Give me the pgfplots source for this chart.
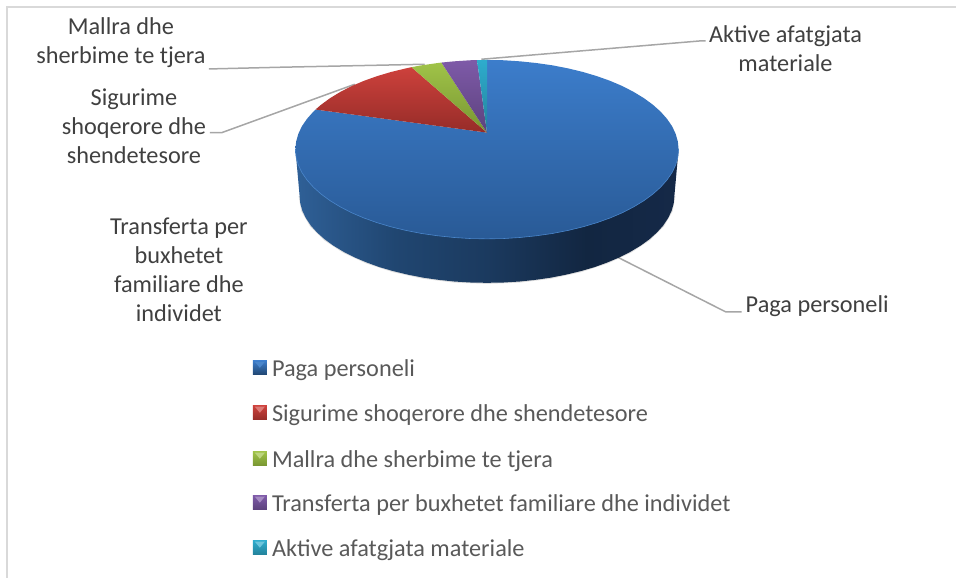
\documentclass[border=0pt]{standalone}
\usepackage{fontspec}
\setmainfont{Carlito}
\usepackage{pgfplots}
\pgfplotsset{compat=1.18}
\definecolor{txtA}{HTML}{404040}
\definecolor{txtB}{HTML}{595959}
\definecolor{leader}{HTML}{A6A6A6}
\definecolor{frameC}{HTML}{D9D9D9}
\definecolor{sA}{RGB}{47,96,151}
\definecolor{sB}{RGB}{32,70,113}
\definecolor{sC}{RGB}{27,58,95}
\definecolor{sD}{RGB}{18,38,65}
\definecolor{sE}{RGB}{21,41,72}
\definecolor{bT}{RGB}{60,125,203}
\definecolor{bB}{RGB}{41,90,150}
\definecolor{bR}{RGB}{74,134,203}
\definecolor{rT}{RGB}{205,65,60}
\definecolor{rB}{RGB}{150,44,40}
\definecolor{gT}{RGB}{160,195,72}
\definecolor{gB}{RGB}{120,150,50}
\definecolor{pT}{RGB}{126,90,168}
\definecolor{pB}{RGB}{92,66,125}
\definecolor{cT}{RGB}{46,172,205}
\definecolor{cB}{RGB}{35,130,155}
\pgfdeclarehorizontalshading{sideblue}{100bp}{
color(0bp)=(sA);
color(25bp)=(sA);
color(38bp)=(sB);
color(50bp)=(sC);
color(63bp)=(sD);
color(75bp)=(sE);
color(100bp)=(sE)}
\newcommand{\lab}[3]{\node[align=center,text=txtA,font=\fontsize{24.3}{29}\selectfont,inner sep=0pt] at (axis cs:#1,#2) {#3};}
\newcommand{\leg}[2]{\node[anchor=west,text=txtB,font=\fontsize{24.3}{29}\selectfont,inner sep=0pt] at (axis cs:272,#1) {#2};}
\begin{document}
\begin{tikzpicture}
\begin{axis}[hide axis,scale only axis,width=957pt,height=578pt,xmin=0,xmax=957,ymin=0,ymax=578,clip=false,no markers]
\path (axis cs:0,0) rectangle (axis cs:957,578);
% frame
\addplot[draw=frameC,line width=1.2pt] coordinates {(7,0)(7,571)(957,571)};
% leader lines
\addplot[draw=leader,line width=1.5pt] coordinates {(209,509)(280,510.7)(425,513.7)};
\addplot[draw=leader,line width=1.5pt] coordinates {(210,445.3)(222,445.3)(355,493.7)};
\addplot[draw=leader,line width=1.5pt] coordinates {(481.7,518.7)(700,537)(706,537)};
\addplot[draw=leader,line width=1.5pt] coordinates {(616.7,321.3)(726,266)(742,266)};
% soft shadow of the side
\addplot[draw=gray,opacity=0.25,line width=2.2pt] coordinates {(299.8,382)(302.6,366.9)(311.1,352.2)(324.9,338.5)(343.7,326.1)(366.8,315.4)(393.5,306.7)(423.2,300.2)(454.7,296.3)(487.3,295)(519.9,296.3)(551.4,300.2)(581.1,306.7)(607.8,315.4)(630.9,326.1)(649.7,338.5)(663.5,352.2)(672.0,366.9)(674.8,382)};
% side of the disc
\addplot[draw=none,shading=sideblue] coordinates {(295.6,428.5)(299.8,382)(300.5,374.4)(302.6,366.9)(306.2,359.5)(311.1,352.2)(317.4,345.2)(324.9,338.5)(333.7,332.1)(343.7,326.1)(354.7,320.5)(366.8,315.4)(379.7,310.7)(393.5,306.7)(408.1,303.2)(423.2,300.2)(438.8,298.0)(454.7,296.3)(470.9,295.3)(487.3,295)(503.7,295.3)(519.9,296.3)(535.8,298.0)(551.4,300.2)(566.5,303.2)(581.1,306.7)(594.9,310.7)(607.8,315.4)(619.9,320.5)(630.9,326.1)(640.9,332.1)(649.7,338.5)(657.2,345.2)(663.5,352.2)(668.4,359.5)(672.0,366.9)(674.1,374.4)(674.8,382)(679,428.5)} -- cycle;
% top: Paga personeli
\addplot[draw=none,top color=bT,bottom color=bB] coordinates {(487.3,445.3)(487.3,518)(504.0,517.7)(520.6,516.6)(536.9,514.9)(552.9,512.6)(568.3,509.6)(583.2,506.0)(597.3,501.8)(610.5,497.1)(622.9,491.8)(634.1,486.0)(644.3,479.8)(653.3,473.2)(661.0,466.3)(667.4,459.1)(672.5,451.7)(676.1,444.0)(678.3,436.3)(679.0,428.5)(678.3,420.7)(676.1,413.0)(672.5,405.3)(667.4,397.9)(661.0,390.7)(653.3,383.8)(644.3,377.2)(634.1,371.0)(622.9,365.2)(610.5,359.9)(597.3,355.2)(583.2,351.0)(568.3,347.4)(552.9,344.4)(536.9,342.1)(520.6,340.4)(504.0,339.3)(487.3,339.0)(470.6,339.3)(454.0,340.4)(437.7,342.1)(421.7,344.4)(406.3,347.4)(391.4,351.0)(377.3,355.2)(364.1,359.9)(351.7,365.2)(340.5,371.0)(330.3,377.2)(321.3,383.8)(313.6,390.7)(307.2,397.9)(302.1,405.3)(298.5,413.0)(296.3,420.7)(295.6,428.5)(296.3,436.3)(298.5,444.0)(302.1,451.7)(307.2,459.1)(313.6,466.3)(315.7,468.4)} -- cycle;
% rim highlight
\addplot[draw=bR,line width=0.6pt] coordinates {(295.6,428.5)(296.3,420.7)(298.5,413.0)(302.1,405.3)(307.2,397.9)(313.6,390.7)(321.3,383.8)(330.3,377.2)(340.5,371.0)(351.7,365.2)(364.1,359.9)(377.3,355.2)(391.4,351.0)(406.3,347.4)(421.7,344.4)(437.7,342.1)(454.0,340.4)(470.6,339.3)(487.3,339.0)(504.0,339.3)(520.6,340.4)(536.9,342.1)(552.9,344.4)(568.3,347.4)(583.2,351.0)(597.3,355.2)(610.5,359.9)(622.9,365.2)(634.1,371.0)(644.3,377.2)(653.3,383.8)(661.0,390.7)(667.4,397.9)(672.5,405.3)(676.1,413.0)(678.3,420.7)(679.0,428.5)};
% top: Sigurime
\addplot[draw=none,top color=rT,bottom color=rB] coordinates {(487.3,445.3)(315.7,468.4)(321.3,473.2)(330.3,479.8)(340.5,486.0)(351.7,491.8)(364.1,497.1)(377.3,501.8)(391.4,506.0)(406.3,509.6)(411.7,510.8)} -- cycle;
% top: Mallra
\addplot[draw=none,top color=gT,bottom color=gB] coordinates {(487.3,445.3)(411.7,510.8)(421.7,512.6)(437.7,514.9)(441.7,515.4)} -- cycle;
% top: Transferta
\addplot[draw=none,top color=pT,bottom color=pB] coordinates {(487.3,445.3)(441.7,515.4)(454.0,516.6)(470.6,517.7)(477.3,517.9)} -- cycle;
% top: Aktive
\addplot[draw=none,top color=cT,bottom color=cB] coordinates {(487.3,445.3)(477.3,517.9)(487.3,518)} -- cycle;
% legend keys
\addplot[draw=none,top color=bT,bottom color=sB] coordinates {(253,203)(267,203)(267,217)(253,217)} -- cycle;
\addplot[draw=none,fill=bR] coordinates {(255,216)(265,216)(260,210)} -- cycle;
\addplot[draw=none,top color=rT,bottom color=rB] coordinates {(253,158)(267,158)(267,172)(253,172)} -- cycle;
\addplot[draw=none,fill=rT!70!white] coordinates {(255,171)(265,171)(260,165)} -- cycle;
\addplot[draw=none,top color=gT,bottom color=gB] coordinates {(253,112)(267,112)(267,126)(253,126)} -- cycle;
\addplot[draw=none,fill=gT!70!white] coordinates {(255,125)(265,125)(260,119)} -- cycle;
\addplot[draw=none,top color=pT,bottom color=pB] coordinates {(253,68)(267,68)(267,82)(253,82)} -- cycle;
\addplot[draw=none,fill=pT!70!white] coordinates {(255,81)(265,81)(260,75)} -- cycle;
\addplot[draw=none,top color=cT,bottom color=cB] coordinates {(253,23)(267,23)(267,37)(253,37)} -- cycle;
\addplot[draw=none,fill=cT!70!white] coordinates {(255,36)(265,36)(260,30)} -- cycle;
% texts
\lab{121}{535}{Mallra dhe\\sherbime te tjera}
\lab{134}{452}{Sigurime\\shoqerore dhe\\shendetesore}
\lab{786}{529}{Aktive afatgjata\\materiale}
\lab{179}{308}{Transferta per\\buxhetet\\familiare dhe\\individet}
\node[anchor=west,text=txtA,font=\fontsize{24.3}{29}\selectfont,inner sep=0pt] at (axis cs:746,272) {Paga personeli};
\leg{208}{Paga personeli}
\leg{163}{Sigurime shoqerore dhe shendetesore}
\leg{117}{Mallra dhe sherbime te tjera}
\leg{73}{Transferta per buxhetet familiare dhe individet}
\leg{28}{Aktive afatgjata materiale}
\end{axis}
\end{tikzpicture}
\end{document}
